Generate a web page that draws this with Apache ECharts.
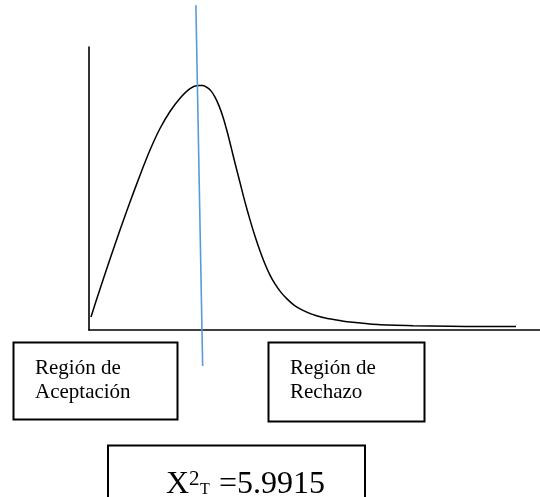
<!DOCTYPE html>
<html>
<head>
<meta charset="utf-8">
<script src="https://cdn.jsdelivr.net/npm/echarts@6/dist/echarts.min.js"></script>
<style>
html,body{margin:0;padding:0;background:#fff;}
#chart{width:540px;height:497px;}
</style>
</head>
<body>
<div id="chart"></div>
<script>
// Density curve (arbitrary units)
const curveX = [0.044, 0.244, 0.466, 0.687, 0.909, 1.131, 1.353, 1.574, 1.796, 2.018, 2.240, 2.417, 2.528, 2.616, 2.705, 2.794, 2.883, 2.971, 3.060, 3.149, 3.237, 3.348, 3.459, 3.570, 3.681, 3.792, 3.902, 4.013, 4.124, 4.257, 4.390, 4.545, 4.723, 4.922, 5.166, 5.455, 5.787, 6.408, 7.184, 8.004, 8.714, 9.468];
const curveY = [0.046, 0.145, 0.251, 0.353, 0.452, 0.547, 0.636, 0.712, 0.772, 0.819, 0.853, 0.864, 0.864, 0.857, 0.845, 0.823, 0.792, 0.753, 0.703, 0.647, 0.590, 0.521, 0.452, 0.389, 0.331, 0.279, 0.233, 0.194, 0.163, 0.133, 0.110, 0.088, 0.071, 0.057, 0.045, 0.036, 0.028, 0.019, 0.015, 0.013, 0.012, 0.012];
// Blue separating line (end points, same units)
const dividerX = [2.37, 2.52];
const dividerY = [1.148, -0.127];
// Labels
const regionLabels = ['Región de\nAceptación', 'Región de\nRechazo'];
const statSymbol = 'X';
const statSup = '2';
const statSub = 'T';
const statValue = '=5.9915';

const curveData = curveX.map((x, i) => [x, curveY[i]]);
const dividerData = dividerX.map((x, i) => [x, dividerY[i]]);

const serif = '"Liberation Serif", "Times New Roman", serif';

const chart = echarts.init(document.getElementById('chart'), null, {renderer: 'canvas'});
chart.setOption({
  animation: false,
  backgroundColor: '#ffffff',
  grid: {left: 89, right: 0, top: 47, bottom: 167},
  xAxis: {
    type: 'value', min: 0, max: 10,
    axisLine: {show: true, onZero: false, lineStyle: {color: '#000', width: 1.6}},
    axisTick: {show: false}, axisLabel: {show: false}, splitLine: {show: false}
  },
  yAxis: {
    type: 'value', min: 0, max: 1,
    axisLine: {show: true, onZero: false, lineStyle: {color: '#000', width: 1.6}},
    axisTick: {show: false}, axisLabel: {show: false}, splitLine: {show: false}
  },
  series: [
    {
      type: 'line', data: curveData, smooth: 0.25, symbol: 'none',
      lineStyle: {color: '#000', width: 1.5}, clip: false, z: 3
    },
    {
      type: 'line', data: dividerData, symbol: 'none',
      lineStyle: {color: '#5B9BD5', width: 1.6}, clip: false, z: 4
    }
  ],
  graphic: [
    {type: 'rect', shape: {x: 13.5, y: 342.5, width: 164, height: 77}, style: {fill: 'none', stroke: '#000', lineWidth: 2}},
    {type: 'rect', shape: {x: 268.5, y: 342.5, width: 156, height: 79}, style: {fill: 'none', stroke: '#000', lineWidth: 2}},
    {type: 'rect', shape: {x: 108, y: 445.5, width: 257, height: 70}, style: {fill: 'none', stroke: '#000', lineWidth: 2}},
    {type: 'text', left: 35, top: 356, style: {text: regionLabels[0], font: '21px ' + serif, lineHeight: 24, fill: '#000'}},
    {type: 'text', left: 290, top: 356, style: {text: regionLabels[1], font: '21px ' + serif, lineHeight: 24, fill: '#000'}},
    {type: 'text', x: 166, y: 485, style: {text: statSymbol, font: '32px ' + serif, fill: '#000', verticalAlign: 'middle', align: 'left'}},
    {type: 'text', x: 189, y: 479, style: {text: statSup, font: '21px ' + serif, fill: '#000', verticalAlign: 'middle', align: 'left'}},
    {type: 'text', x: 200, y: 490, style: {text: statSub, font: '16px ' + serif, fill: '#000', verticalAlign: 'middle', align: 'left'}},
    {type: 'text', x: 219, y: 485, style: {text: statValue, font: '32px ' + serif, fill: '#000', verticalAlign: 'middle', align: 'left'}}
  ]
});
</script>
</body>
</html>
